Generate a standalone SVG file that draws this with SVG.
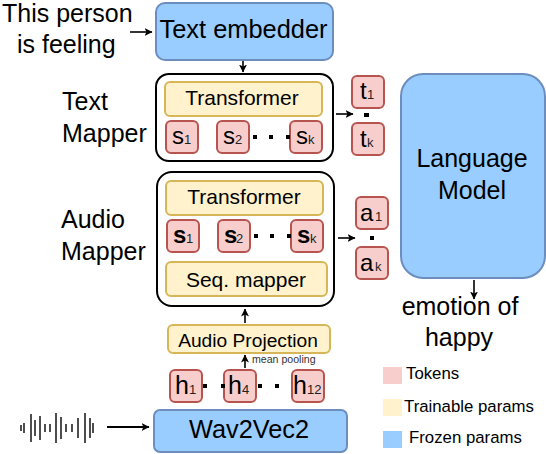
<svg xmlns="http://www.w3.org/2000/svg" width="546" height="454" viewBox="0 0 546 454">
<style>
text{font-family:"Liberation Sans",Arial,sans-serif;fill:#000}
.frozen{fill:#99ccff;stroke:#6c8ebf;stroke-width:2}
.train{fill:#fff2cc;stroke:#d6b656;stroke-width:2}
.tok{fill:#f8cecc;stroke:#b85450;stroke-width:2}
.map{fill:#fff;stroke:#000;stroke-width:2}
.c{fill:none;stroke:#000;stroke-width:1.6}
.m{text-anchor:middle}
.big{font-size:25.4px}
.lab{font-size:25px}
.mid{font-size:21px}
.s{font-size:24px}
.b{font-weight:bold}
.h{font-size:25px}
.sub{font-size:13px;fill:#222}
.leg{font-size:16.8px}
.dot{fill:#000}
</style>
<defs>
<marker id="a" viewBox="0 0 8 8" refX="7.5" refY="4" markerWidth="8" markerHeight="8" markerUnits="userSpaceOnUse" orient="auto"><path d="M0 0L8 4L0 8L2 4Z" fill="#000"/></marker>
</defs>
<rect width="546" height="454" fill="#fff"/>

<g id="input-text"><text class="lab" x="2" y="22">This person</text><text class="lab" x="17" y="53">is feeling</text></g>
<g id="text-mapper-label"><text class="lab" x="62" y="110">Text</text><text class="lab" x="62" y="142">Mapper</text></g>
<g id="audio-mapper-label"><text class="lab" x="61" y="228">Audio</text><text class="lab" x="61" y="260">Mapper</text></g>

<g id="connectors">
<path class="c" d="M130 32H152" marker-end="url(#a)"/>
<path class="c" d="M243 61V72" marker-end="url(#a)"/>
<path class="c" d="M336 114H353" marker-end="url(#a)"/>
<path class="c" d="M338 238H355" marker-end="url(#a)"/>
<path class="c" d="M245 323V309" marker-end="url(#a)"/>
<path class="c" d="M245 368V355" marker-end="url(#a)"/>
<path class="c" style="stroke-width:2" d="M107 427H149" marker-end="url(#a)"/>
<path class="c" d="M474 280V299" marker-end="url(#a)"/>
</g>

<g id="text-embedder"><rect class="frozen" x="156" y="3" width="177" height="57" rx="9"/><text class="big m" x="243.500" y="38">Text embedder</text></g>

<g id="text-mapper"><rect class="map" x="156" y="74" width="177" height="87" rx="13"/></g>
<g id="text-transformer"><rect class="train" x="165" y="82" width="157" height="34" rx="5"/><text class="mid m" x="242" y="105">Transformer</text></g>
<g id="text-s1"><rect class="tok" x="166" y="121" width="32" height="32" rx="5"/><text class="s" x="172" y="144">s</text><text class="sub" x="184" y="144">1</text></g>
<g id="text-s2"><rect class="tok" x="217" y="121" width="32" height="32" rx="5"/><text class="s" x="223" y="144">s</text><text class="sub" x="235" y="144">2</text></g>
<g id="text-sk"><rect class="tok" x="290" y="121" width="32" height="32" rx="5"/><text class="s" x="296" y="144">s</text><text class="sub" x="308" y="144">k</text></g>
<g class="dot"><rect x="253" y="135" width="4" height="4"/><rect x="269" y="135" width="4" height="4"/><rect x="286" y="135" width="4" height="4"/></g>

<g id="audio-mapper"><rect class="map" x="157" y="172" width="177" height="134" rx="15"/></g>
<g id="audio-transformer"><rect class="train" x="166" y="181" width="157" height="34" rx="5"/><text class="mid m" x="244" y="204">Transformer</text></g>
<g id="audio-s1"><rect class="tok" x="167" y="220" width="32" height="32" rx="5"/><text class="s b" x="173" y="243">s</text><text class="sub" x="186" y="243">1</text></g>
<g id="audio-s2"><rect class="tok" x="218" y="220" width="32" height="32" rx="5"/><text class="s b" x="224" y="243">s</text><text class="sub" x="236" y="243">2</text></g>
<g id="audio-sk"><rect class="tok" x="291" y="220" width="32" height="32" rx="5"/><text class="s b" x="297" y="243">s</text><text class="sub" x="310" y="243">k</text></g>
<g class="dot"><rect x="254" y="234" width="4" height="4"/><rect x="270" y="234" width="4" height="4"/><rect x="287" y="234" width="4" height="4"/></g>
<g id="seq-mapper"><rect class="train" x="166" y="262" width="161" height="34" rx="5"/><text class="mid m" x="246" y="287">Seq. mapper</text></g>

<g id="audio-projection"><rect class="train" x="168" y="325" width="162" height="28" rx="5"/><text class="m" x="248" y="347" style="font-size:19.2px">Audio Projection</text></g>
<text x="252" y="363" style="font-size:10.600px;fill:#333">mean pooling</text>

<g id="h1"><rect class="tok" x="170" y="370" width="32" height="32" rx="5"/><text class="h" x="175" y="394">h</text><text class="sub" x="189" y="394">1</text></g>
<g id="h4"><rect class="tok" x="224" y="370" width="32" height="32" rx="5"/><text class="h" x="228" y="394">h</text><text class="sub" x="242" y="394">4</text></g>
<g id="h12"><rect class="tok" x="292" y="370" width="32" height="32" rx="5"/><text class="h" x="293" y="394">h</text><text class="sub" x="307" y="394">12</text></g>
<g class="dot"><rect x="203" y="384" width="4" height="4"/><rect x="221" y="384" width="4" height="4"/><rect x="258" y="384" width="4" height="4"/><rect x="275" y="384" width="4" height="4"/></g>

<g id="wav2vec2"><rect class="frozen" x="154" y="410" width="193" height="42" rx="6"/><text class="m" x="249" y="438" style="font-size:25.300px">Wav2Vec2</text></g>

<g id="waveform"><path fill="none" stroke="#222" stroke-width="1.600" d="M21 425V431M24 423V433M31 414V442M35 420V436M40 416V440M45 424V432M50 424V432M56 413V443M61 417V439M66 424V432M72 424V432M78 418V438M85 413V443M90 418V438M93 423V433"/></g>

<g id="t1"><rect class="tok" x="352" y="76" width="32" height="32" rx="5"/><text class="s" x="360" y="99">t</text><text class="sub" x="367" y="99">1</text></g>
<rect class="dot" x="364" y="113" width="5" height="4"/>
<g id="tk"><rect class="tok" x="352" y="123" width="32" height="32" rx="5"/><text class="s" x="360" y="147">t</text><text class="sub" x="367" y="147">k</text></g>
<g id="a1"><rect class="tok" x="356" y="197" width="32" height="32" rx="5"/><text class="s" x="360" y="221">a</text><text class="sub" x="375" y="221">1</text></g>
<rect class="dot" x="370" y="236" width="4" height="4"/>
<g id="ak"><rect class="tok" x="356" y="247" width="32" height="32" rx="5"/><text class="s" x="360" y="271">a</text><text class="sub" x="375" y="271">k</text></g>

<g id="language-model"><rect class="frozen" x="401" y="74" width="144" height="204" rx="22"/><text class="lab m" x="472" y="167">Language</text><text class="lab m" x="472" y="199">Model</text></g>

<g id="output-text"><text class="lab m" x="460" y="315">emotion of</text><text class="lab m" x="459" y="346">happy</text></g>

<g id="legend">
<rect x="383" y="367" width="19" height="17" fill="#f8cecc"/><text class="leg" x="406" y="379">Tokens</text>
<rect x="383" y="399" width="19" height="17" fill="#fff2cc"/><text class="leg" x="404" y="412">Trainable params</text>
<rect x="383" y="431" width="19" height="17" fill="#99ccff"/><text class="leg" x="409" y="443">Frozen params</text>
</g>
</svg>
